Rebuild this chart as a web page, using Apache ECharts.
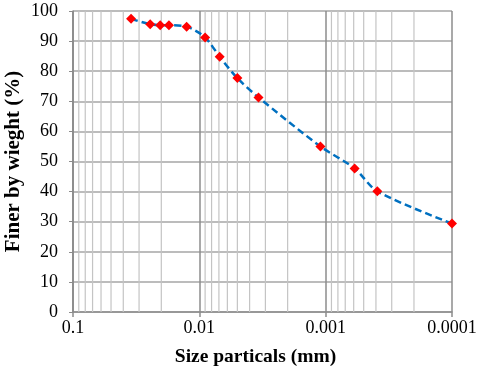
<!DOCTYPE html>
<html lang="en">
<head>
    <meta charset="UTF-8">
    <title>grain size</title>
    <script src="https://cdn.jsdelivr.net/npm/echarts@6/dist/echarts.min.js"></script>
    <style>
        html, body { margin: 0; padding: 0; background: #fff; }
        #chart { width: 480px; height: 371px; }
    </style>
</head>
<body>
<div id="chart"></div>
<script type="text/javascript">
    // grain size (mm) and percent finer
    var sizes = [0.0347, 0.0245, 0.0204, 0.0174, 0.0126, 0.0090, 0.0069, 0.0050, 0.0034, 0.0011, 0.00059, 0.00039, 0.0001];
    var finer = [97.4, 95.6, 95.3, 95.3, 94.8, 91.2, 84.8, 77.7, 71.3, 55.0, 47.7, 40.1, 29.4];
    var decades = [0.01, 0.001, 0.0001];
    var minorSteps = [2, 3, 4, 5, 6, 7, 8, 9];

    var serif = '"Liberation Serif", "Times New Roman", serif';

    // minor vertical gridlines of the log axis, each one a thin line series
    var gridSeries = [];
    decades.forEach(function (d) {
        minorSteps.forEach(function (m) {
            var v = +(d * m).toPrecision(3);
            gridSeries.push({
                type: 'line',
                data: [[v, 0], [v, 100]],
                silent: true,
                symbol: 'none',
                lineStyle: { color: '#c4c4c4', width: 1.2 },
                z: 1
            });
        });
    });

    var points = sizes.map(function (s, i) { return [s, finer[i]]; });

    var chart = echarts.init(document.getElementById('chart'));
    chart.setOption({
        animation: false,
        grid: { left: 73, right: 28, top: 11, bottom: 59, containLabel: false, outerBoundsMode: 'none' },
        xAxis: {
            type: 'log',
            logBase: 10,
            min: 0.0001,
            max: 0.1,
            inverse: true,
            name: 'Size particals (mm)',
            nameLocation: 'middle',
            nameGap: 35,
            nameMoveOverlap: false,
            nameTextStyle: { fontFamily: serif, fontWeight: 'bold', fontSize: 19.5, color: '#000', padding: [0, 14, 0, 0] },
            axisLine: { lineStyle: { color: '#8c8c8c', width: 1.5 } },
            axisTick: { show: true, length: 5, lineStyle: { color: '#8c8c8c', width: 1.5 } },
            axisLabel: {
                fontFamily: serif, fontSize: 18, color: '#000', margin: 7,
                formatter: function (v) {
                    var d = Math.max(0, Math.round(-Math.log10(v)));
                    return v.toFixed(d);
                }
            },
            splitLine: { show: true, lineStyle: { color: '#8c8c8c', width: 1.5 } }
        },
        yAxis: {
            type: 'value',
            min: 0,
            max: 100,
            interval: 10,
            name: 'Finer by wieght (%)',
            nameLocation: 'middle',
            nameGap: 49,
            nameMoveOverlap: false,
            nameTextStyle: { fontFamily: serif, fontWeight: 'bold', fontSize: 21, color: '#000' },
            axisLine: { show: true, lineStyle: { color: '#8c8c8c', width: 1.5 } },
            axisTick: { show: true, length: 4, lineStyle: { color: '#8c8c8c' } },
            axisLabel: { fontFamily: serif, fontSize: 18, color: '#000', margin: 15 },
            splitLine: { show: true, lineStyle: { color: '#a6a6a6', width: 1.5 } }
        },
        series: gridSeries.concat([
            {
                type: 'line',
                data: points,
                smooth: 0.3,
                symbol: 'diamond',
                symbolSize: 10,
                itemStyle: { color: '#ff0000' },
                lineStyle: { color: '#0070c0', width: 2.5, type: [7, 4] },
                z: 5
            }
        ])
    });
</script>
</body>
</html>
